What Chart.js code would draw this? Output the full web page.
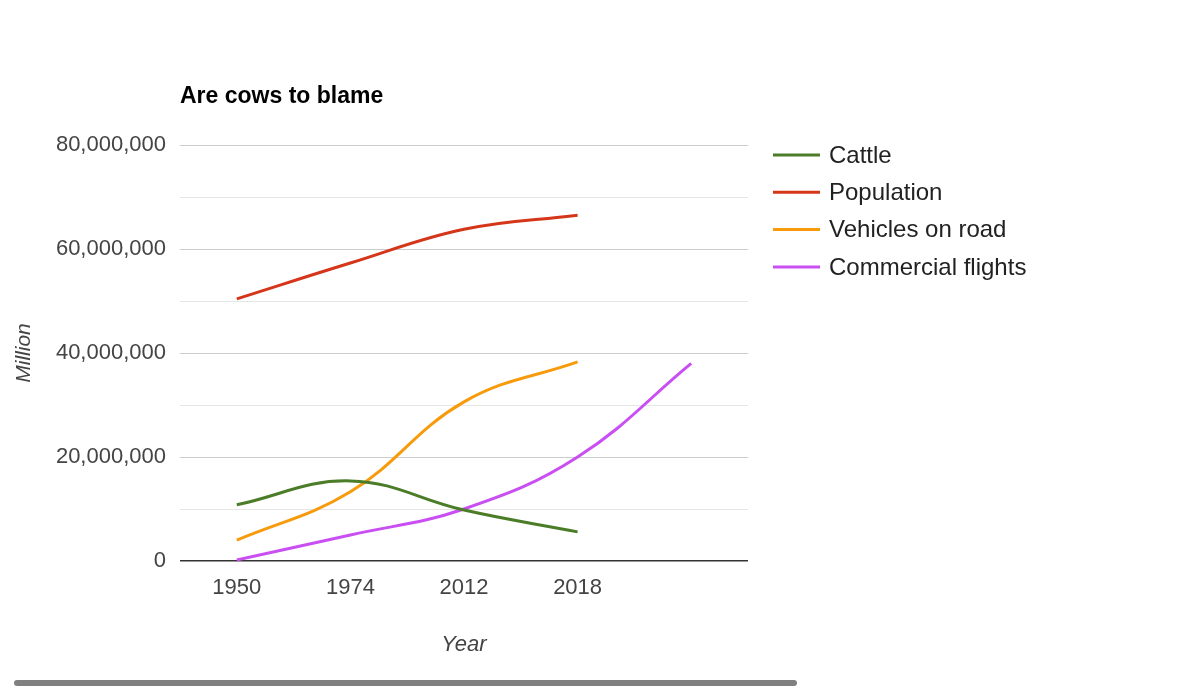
<!DOCTYPE html>
<html>
<head>
<meta charset="utf-8">
<script src="https://cdn.jsdelivr.net/npm/chart.js@4"></script>
<style>
  body { margin: 0; background: #fff; }
  #wrap { position: relative; width: 1200px; height: 691px; }
  #scrollbar { position: absolute; left: 14px; top: 680px; width: 783px; height: 6px; background: #808080; border-radius: 3px; }
</style>
</head>
<body>
<div id="wrap">
  <canvas id="cowChart" width="1200" height="691"></canvas>
  <div id="scrollbar"></div>
</div>
<script>
// Chart data
const years = ['1950', '1974', '2012', '2018', ''];
const cattle = [10800000, 15400000, 9800000, 5600000, null];
const population = [50400000, 57300000, 63800000, 66500000, null];
const vehicles = [4000000, 13300000, 30600000, 38300000, null];
const flights = [200000, 5000000, 10000000, 20000000, 38000000];
const seriesNames = ['Cattle', 'Population', 'Vehicles on road', 'Commercial flights'];
const seriesColors = ['#4b7c27', '#d5361a', '#f79b0d', '#c94ff2'];

const FONT = "'Liberation Sans', Arial, sans-serif";

// title + legend drawn on the canvas at fixed spots, like the google chart
const extrasPlugin = {
    id: 'extras',
    afterDraw(chart) {
        const c = chart.ctx;
        const area = chart.chartArea;
        c.save();
        c.fillStyle = '#000';
        c.font = 'bold 23px ' + FONT;
        c.textBaseline = 'middle';
        c.textAlign = 'left';
        c.fillText('Are cows to blame', area.left, 97);

        c.font = '24px ' + FONT;
        chart.data.datasets.forEach((ds, i) => {
            const y = 155 + i * 37.3;
            c.strokeStyle = ds.borderColor;
            c.lineWidth = 3;
            c.beginPath();
            c.moveTo(773, y);
            c.lineTo(820, y);
            c.stroke();
            c.fillStyle = '#222';
            c.fillText(ds.label, 829, y + 1);
        });
        c.restore();
    }
};

const ctx = document.getElementById('cowChart').getContext('2d');
const cowChart = new Chart(ctx, {
    type: 'line',
    data: {
        labels: years,
        datasets: [cattle, population, vehicles, flights].map((d, i) => ({
            label: seriesNames[i],
            data: d,
            borderColor: seriesColors[i],
            backgroundColor: seriesColors[i],
            borderWidth: 3,
            pointRadius: 0,
            tension: 0.4,
            spanGaps: false
        }))
    },
    options: {
        responsive: false,
        animation: false,
        layout: { padding: { left: 0, top: 145, right: 452, bottom: 0 } },
        plugins: {
            legend: { display: false },
            tooltip: { enabled: false }
        },
        scales: {
            x: {
                offset: true,
                grid: { display: false, drawTicks: false },
                border: { display: false },
                ticks: { color: '#444', font: { family: FONT, size: 22 }, padding: 14 },
                title: {
                    display: true, text: 'Year', color: '#444',
                    font: { family: FONT, size: 22, style: 'italic' },
                    padding: { top: 0, bottom: 33 }
                },
                afterFit(scale) { scale.height = 130; }
            },
            y: {
                min: 0,
                max: 80000000,
                grid: {
                    drawTicks: false,
                    color: c => c.tick.value === 0 ? '#333' : (c.tick.value % 20000000 === 0 ? '#cccccc' : '#e6e6e6'),
                    lineWidth: c => c.tick.value === 0 ? 1.5 : 1
                },
                border: { display: false },
                ticks: {
                    stepSize: 10000000,
                    color: '#444',
                    font: { family: FONT, size: 22 },
                    padding: 14,
                    callback: v => v % 20000000 === 0 ? v.toLocaleString('en-US') : ''
                },
                title: {
                    display: true, text: 'Million', color: '#444',
                    font: { family: FONT, size: 21, style: 'italic' },
                    padding: { top: 12, bottom: 0 }
                },
                afterFit(scale) { scale.width = 180; }
            }
        }
    },
    plugins: [extrasPlugin]
});
</script>
</body>
</html>
